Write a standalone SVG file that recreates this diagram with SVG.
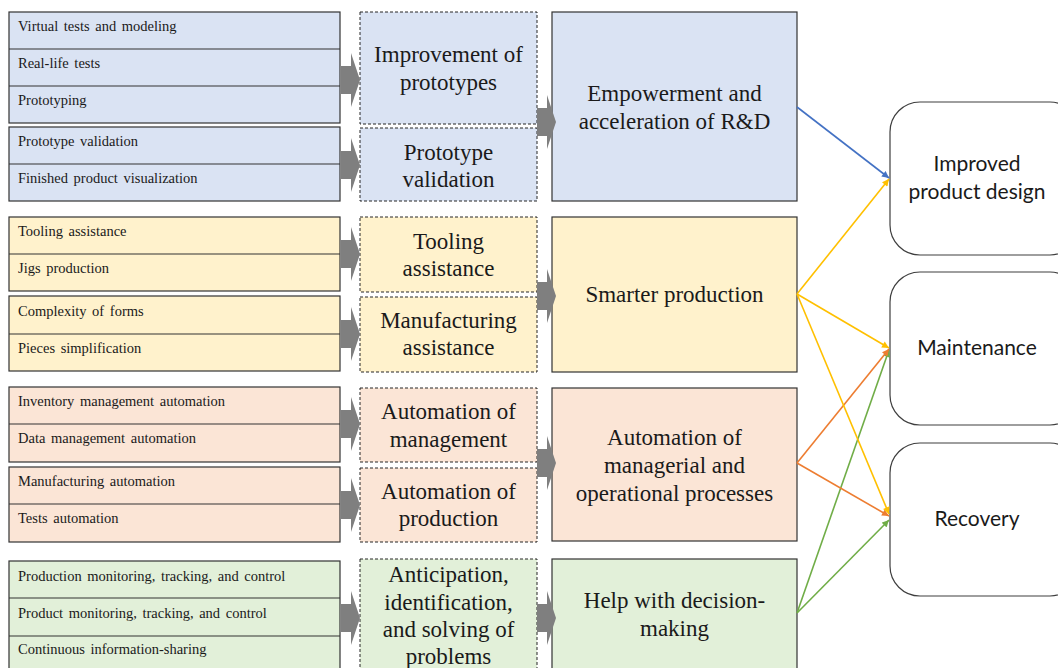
<svg xmlns="http://www.w3.org/2000/svg" width="1058" height="668" viewBox="0 0 1058 668">
  <defs>
    <style>
      .lbl { font-family: "Liberation Serif", "Times New Roman", serif; font-size: 14.5px; fill: #1a1a1a; word-spacing: 2px; }
      .mid { font-family: "Liberation Serif", "Times New Roman", serif; font-size: 23px; fill: #1a1a1a; text-anchor: middle; }
      .out { font-family: Lato, "Liberation Sans", sans-serif; font-size: 21px; fill: #1a1a1a; text-anchor: middle; }
      .list { stroke: #333333; stroke-width: 1.2; }
      .grp { stroke: #262626; stroke-width: 1; stroke-dasharray: 3 2; }
      .goal { stroke: #333333; stroke-width: 1.2; }
      .row { stroke: #333333; stroke-width: 1.2; }
      .res { fill: #ffffff; stroke: #3f3f3f; stroke-width: 1.2; }
      .blue { fill: #dae3f3; }
      .yellow { fill: #fff2cc; }
      .peach { fill: #fbe5d6; }
      .green { fill: #e2f0d9; }
      .block { fill: #7f7f7f; }
      .ln { fill: none; stroke-width: 1.6; }
    </style>
    <path id="blockArrow" d="M0,-14 H10 V-27 L19,0 L10,27 V14 H0 Z"/>
    <marker id="hBlue" viewBox="0 0 10 10" refX="10" refY="5" markerWidth="8" markerHeight="7" markerUnits="userSpaceOnUse" orient="auto">
      <path d="M0,0 L10,5 L0,10 Z" fill="#4472c4"/>
    </marker>
    <marker id="hYellow" viewBox="0 0 10 10" refX="10" refY="5" markerWidth="8" markerHeight="7" markerUnits="userSpaceOnUse" orient="auto">
      <path d="M0,0 L10,5 L0,10 Z" fill="#ffc000"/>
    </marker>
    <marker id="hOrange" viewBox="0 0 10 10" refX="10" refY="5" markerWidth="8" markerHeight="7" markerUnits="userSpaceOnUse" orient="auto">
      <path d="M0,0 L10,5 L0,10 Z" fill="#ed7d31"/>
    </marker>
    <marker id="hGreen" viewBox="0 0 10 10" refX="10" refY="5" markerWidth="8" markerHeight="7" markerUnits="userSpaceOnUse" orient="auto">
      <path d="M0,0 L10,5 L0,10 Z" fill="#70ad47"/>
    </marker>
  </defs>

  <rect width="1058" height="668" fill="#ffffff"/>

  <!-- R&D: activity lists -->
  <g id="list-rd-prototypes">
    <rect class="list blue" x="9" y="12" width="331" height="111"/>
    <line class="row" x1="9" y1="49" x2="340" y2="49"/>
    <line class="row" x1="9" y1="86" x2="340" y2="86"/>
    <text class="lbl" x="18" y="31">Virtual tests and modeling</text>
    <text class="lbl" x="18" y="68">Real-life tests</text>
    <text class="lbl" x="18" y="105">Prototyping</text>
  </g>
  <g id="list-rd-validation">
    <rect class="list blue" x="9" y="127" width="331" height="74"/>
    <line class="row" x1="9" y1="164" x2="340" y2="164"/>
    <text class="lbl" x="18" y="146">Prototype validation</text>
    <text class="lbl" x="18" y="183">Finished product visualization</text>
  </g>

  <!-- Production: activity lists -->
  <g id="list-prod-tooling">
    <rect class="list yellow" x="9" y="217" width="331" height="74"/>
    <line class="row" x1="9" y1="254" x2="340" y2="254"/>
    <text class="lbl" x="18" y="236">Tooling assistance</text>
    <text class="lbl" x="18" y="273">Jigs production</text>
  </g>
  <g id="list-prod-forms">
    <rect class="list yellow" x="9" y="296" width="331" height="75"/>
    <line class="row" x1="9" y1="334" x2="340" y2="334"/>
    <text class="lbl" x="18" y="316">Complexity of forms</text>
    <text class="lbl" x="18" y="353">Pieces simplification</text>
  </g>

  <!-- Automation: activity lists -->
  <g id="list-auto-management">
    <rect class="list peach" x="9" y="387" width="331" height="75"/>
    <line class="row" x1="9" y1="424" x2="340" y2="424"/>
    <text class="lbl" x="18" y="406">Inventory management automation</text>
    <text class="lbl" x="18" y="443">Data management automation</text>
  </g>
  <g id="list-auto-production">
    <rect class="list peach" x="9" y="467" width="331" height="75"/>
    <line class="row" x1="9" y1="504" x2="340" y2="504"/>
    <text class="lbl" x="18" y="486">Manufacturing automation</text>
    <text class="lbl" x="18" y="523">Tests automation</text>
  </g>

  <!-- Decision-making: activity list -->
  <g id="list-decision">
    <rect class="list green" x="9" y="561" width="331" height="120"/>
    <line class="row" x1="9" y1="598" x2="340" y2="598"/>
    <line class="row" x1="9" y1="636" x2="340" y2="636"/>
    <text class="lbl" x="18" y="581">Production monitoring, tracking, and control</text>
    <text class="lbl" x="18" y="618">Product monitoring, tracking, and control</text>
    <text class="lbl" x="18" y="654">Continuous information-sharing</text>
  </g>

  <!-- Intermediate groupings (dashed) -->
  <g id="grp-improvement">
    <rect class="grp blue" x="360" y="12" width="177" height="112"/>
    <text class="mid" x="448.5" y="62">Improvement of</text>
    <text class="mid" x="448.5" y="90">prototypes</text>
  </g>
  <g id="grp-validation">
    <rect class="grp blue" x="360" y="128" width="177" height="73"/>
    <text class="mid" x="448.5" y="160">Prototype</text>
    <text class="mid" x="448.5" y="187">validation</text>
  </g>
  <g id="grp-tooling">
    <rect class="grp yellow" x="360" y="217" width="177" height="75"/>
    <text class="mid" x="448.5" y="249">Tooling</text>
    <text class="mid" x="448.5" y="276">assistance</text>
  </g>
  <g id="grp-manufacturing">
    <rect class="grp yellow" x="360" y="297" width="177" height="75"/>
    <text class="mid" x="448.5" y="328">Manufacturing</text>
    <text class="mid" x="448.5" y="355">assistance</text>
  </g>
  <g id="grp-auto-management">
    <rect class="grp peach" x="360" y="388" width="177" height="74"/>
    <text class="mid" x="448.5" y="419">Automation of</text>
    <text class="mid" x="448.5" y="447">management</text>
  </g>
  <g id="grp-auto-production">
    <rect class="grp peach" x="360" y="468" width="177" height="74"/>
    <text class="mid" x="448.5" y="499">Automation of</text>
    <text class="mid" x="448.5" y="526">production</text>
  </g>
  <g id="grp-anticipation">
    <rect class="grp green" x="360" y="559" width="177" height="122"/>
    <text class="mid" x="448.5" y="582">Anticipation,</text>
    <text class="mid" x="448.5" y="610">identification,</text>
    <text class="mid" x="448.5" y="637">and solving of</text>
    <text class="mid" x="448.5" y="664">problems</text>
  </g>

  <!-- Benefits -->
  <g id="goal-rd">
    <rect class="goal blue" x="552" y="12" width="245" height="189"/>
    <text class="mid" x="674.5" y="101">Empowerment and</text>
    <text class="mid" x="674.5" y="129">acceleration of R&amp;D</text>
  </g>
  <g id="goal-production">
    <rect class="goal yellow" x="552" y="217" width="245" height="155"/>
    <text class="mid" x="674.5" y="302">Smarter production</text>
  </g>
  <g id="goal-automation">
    <rect class="goal peach" x="552" y="388" width="245" height="153"/>
    <text class="mid" x="674.5" y="445">Automation of</text>
    <text class="mid" x="674.5" y="473">managerial and</text>
    <text class="mid" x="674.5" y="501">operational processes</text>
  </g>
  <g id="goal-decision">
    <rect class="goal green" x="552" y="559" width="245" height="122"/>
    <text class="mid" x="674.5" y="608">Help with decision-</text>
    <text class="mid" x="674.5" y="636">making</text>
  </g>

  <!-- Outcomes -->
  <g id="out-design">
    <rect class="res" x="890" y="102" width="190" height="153" rx="30" ry="30"/>
    <text class="out" x="977" y="171">Improved</text>
    <text class="out" x="977" y="199">product design</text>
  </g>
  <g id="out-maintenance">
    <rect class="res" x="890" y="272" width="190" height="153" rx="30" ry="30"/>
    <text class="out" x="977" y="355">Maintenance</text>
  </g>
  <g id="out-recovery">
    <rect class="res" x="890" y="443" width="190" height="153" rx="30" ry="30"/>
    <text class="out" x="977" y="526">Recovery</text>
  </g>

  <!-- Connectors -->
  <g id="connectors">
    <!-- lists to groupings -->
    <use href="#blockArrow" class="block" transform="translate(341,80)"/>
    <use href="#blockArrow" class="block" transform="translate(341,165)"/>
    <use href="#blockArrow" class="block" transform="translate(341,254)"/>
    <use href="#blockArrow" class="block" transform="translate(341,334)"/>
    <use href="#blockArrow" class="block" transform="translate(341,424)"/>
    <use href="#blockArrow" class="block" transform="translate(341,505)"/>
    <use href="#blockArrow" class="block" transform="translate(341,618)"/>
    <!-- groupings to benefits -->
    <use href="#blockArrow" class="block" transform="translate(537,122)"/>
    <use href="#blockArrow" class="block" transform="translate(537,296)"/>
    <use href="#blockArrow" class="block" transform="translate(537,463)"/>
    <use href="#blockArrow" class="block" transform="translate(537,618)"/>

    <!-- benefits to outcomes -->
    <line class="ln" x1="797" y1="107" x2="889" y2="178" stroke="#4472c4" marker-end="url(#hBlue)"/>
    <line class="ln" x1="797" y1="613" x2="889" y2="350" stroke="#70ad47" marker-end="url(#hGreen)"/>
    <line class="ln" x1="797" y1="613" x2="889" y2="520" stroke="#70ad47" marker-end="url(#hGreen)"/>
    <line class="ln" x1="797" y1="463" x2="889" y2="349" stroke="#ed7d31" marker-end="url(#hOrange)"/>
    <line class="ln" x1="797" y1="463" x2="889" y2="516" stroke="#ed7d31" marker-end="url(#hOrange)"/>
    <line class="ln" x1="797" y1="294" x2="889" y2="179" stroke="#ffc000" marker-end="url(#hYellow)"/>
    <line class="ln" x1="797" y1="294" x2="889" y2="348" stroke="#ffc000" marker-end="url(#hYellow)"/>
    <line class="ln" x1="797" y1="294" x2="889" y2="514" stroke="#ffc000" marker-end="url(#hYellow)"/>
  </g>
</svg>
